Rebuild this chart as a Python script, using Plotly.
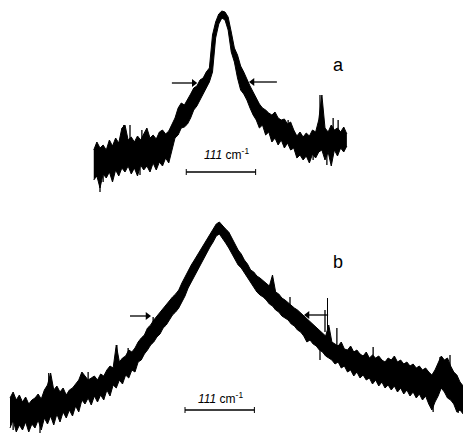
import plotly.graph_objects as go

# Wavenumber sampling (cm^-1, arbitrary origin)
wn_a = list(range(150, 560, 5))
wn_b = list(range(16, 746, 5))

# Spectrum a: upper / lower edges of the noisy trace (arb. intensity)
a_upper = [50, 58, 52, 55, 50, 60, 54, 62, 57, 72, 75, 60, 63, 58, 64, 60, 66, 72, 62, 65,
           61, 68, 70, 66, 69, 75, 82, 92, 97, 95, 100, 106, 112, 114, 120, 122, 128, 132, 165, 178,
           186, 189, 188, 183, 168, 152, 145, 134, 128, 120, 114, 108, 102, 96, 92, 90, 87, 85, 88, 82,
           80, 81, 76, 78, 70, 64, 68, 63, 67, 64, 70, 68, 80, 105, 72, 68, 75, 70, 72, 68,
           73, 66]
a_lower = [20, 24, 12, 26, 22, 28, 18, 30, 24, 32, 28, 34, 26, 32, 24, 35, 30, 34, 28, 37,
           30, 38, 34, 42, 37, 50, 62, 65, 72, 73, 76, 82, 90, 94, 100, 105, 112, 118, 128, 162,
           176, 182, 180, 170, 148, 138, 122, 110, 106, 100, 92, 85, 80, 72, 75, 65, 68, 58, 62, 55,
           60, 52, 57, 50, 52, 42, 45, 40, 44, 37, 46, 42, 48, 50, 40, 48, 34, 50, 44, 52,
           48, 54]
# Isolated noise spikes of spectrum a (position, tip intensity)
a_spike_up_x = [198, 208, 227, 256, 461, 512, 533, 541]
a_spike_up_y = [75, 75, 70, 68, 80, 105, 82, 80]
a_spike_dn_x = [160, 165, 224, 501, 523]
a_spike_dn_y = [8, 18, 25, 40, 35]

# Spectrum b
b_upper = [42, 48, 40, 45, 38, 43, 36, 40, 42, 46, 41, 50, 55, 67, 50, 54, 48, 52, 45, 50,
           52, 56, 60, 68, 64, 60, 62, 64, 60, 66, 64, 70, 74, 72, 95, 78, 82, 84, 90, 88,
           92, 98, 102, 105, 112, 115, 120, 124, 128, 132, 136, 140, 143, 146, 150, 157, 163, 170, 175, 180,
           185, 190, 196, 201, 206, 211, 216, 218, 214, 211, 208, 202, 195, 190, 186, 180, 176, 170, 168, 164,
           162, 159, 156, 154, 165, 148, 146, 142, 140, 137, 135, 132, 130, 127, 124, 122, 118, 115, 112, 109,
           106, 104, 115, 98, 96, 94, 98, 91, 90, 94, 88, 90, 86, 84, 88, 82, 85, 82, 84, 80,
           78, 82, 80, 84, 78, 80, 76, 78, 74, 76, 72, 74, 70, 72, 68, 65, 70, 78, 84, 80,
           82, 74, 68, 65, 58, 54]
b_lower = [12, 20, 8, 15, 10, 18, 8, 16, 12, 20, 10, 22, 16, 24, 15, 26, 18, 28, 22, 30,
           24, 34, 28, 40, 36, 42, 35, 44, 38, 45, 40, 50, 44, 55, 52, 60, 56, 65, 62, 70,
           68, 78, 80, 86, 90, 95, 98, 103, 106, 112, 115, 120, 125, 128, 132, 138, 144, 152, 158, 163,
           170, 175, 181, 187, 193, 198, 204, 206, 202, 197, 192, 186, 180, 175, 172, 167, 162, 157, 153, 148,
           145, 143, 140, 136, 134, 130, 128, 124, 122, 120, 116, 114, 110, 108, 104, 98, 100, 96, 94, 90,
           88, 84, 82, 80, 76, 78, 72, 74, 68, 70, 64, 68, 62, 65, 60, 62, 56, 60, 54, 58,
           52, 55, 50, 54, 48, 52, 46, 50, 44, 48, 42, 46, 40, 44, 36, 30, 38, 44, 52, 48,
           42, 40, 36, 28, 30, 26]
b_spike_up_x = [78, 141, 187, 205, 245, 437, 464, 520, 539, 597, 704, 720]
b_spike_up_y = [67, 68, 95, 92, 123, 158, 143, 130, 112, 93, 83, 85]
b_spike_dn_x = [21, 64, 512, 693, 733]
b_spike_dn_y = [10, 7, 80, 28, 27]

scale_label = "<i>111</i> cm<sup>-1</sup>"
scale_width = 111  # cm^-1

fig = go.Figure()
ink = "#000000"

def add_spectrum(x, lo, hi, yaxis):
    fig.add_trace(go.Scatter(x=x, y=lo, mode="lines", line=dict(color=ink, width=1),
                             yaxis=yaxis, hoverinfo="skip", showlegend=False))
    fig.add_trace(go.Scatter(x=x, y=hi, mode="lines", line=dict(color=ink, width=1),
                             fill="tonexty", fillcolor=ink,
                             yaxis=yaxis, hoverinfo="skip", showlegend=False))

def add_spikes(xs, ys, depth, yaxis):
    px, py = [], []
    for x, y in zip(xs, ys):
        px += [x, x, None]
        py += [y, y + depth, None]
    fig.add_trace(go.Scatter(x=px, y=py, mode="lines", line=dict(color=ink, width=1.3),
                             yaxis=yaxis, hoverinfo="skip", showlegend=False))

add_spectrum(wn_a, a_lower, a_upper, "y")
add_spikes(a_spike_up_x, a_spike_up_y, -22, "y")
add_spikes(a_spike_dn_x, a_spike_dn_y, 22, "y")
add_spectrum(wn_b, b_lower, b_upper, "y2")
add_spikes(b_spike_up_x, b_spike_up_y, -22, "y2")
add_spikes(b_spike_dn_x, b_spike_dn_y, 22, "y2")

shapes = []
annotations = []

def scale_bar(x0, y, yref, lx, ly):
    x1 = x0 + scale_width
    shapes.append(dict(type="line", x0=x0, x1=x1, y0=y, y1=y, xref="x", yref=yref,
                       line=dict(color=ink, width=1.3)))
    for xx in (x0, x1):
        shapes.append(dict(type="line", x0=xx, x1=xx, y0=y - 3, y1=y + 3, xref="x", yref=yref,
                           line=dict(color=ink, width=1)))
    annotations.append(dict(x=lx, y=ly, xref="x", yref=yref, text=scale_label, showarrow=False,
                            font=dict(family="Liberation Sans", size=12, color=ink)))

scale_bar(298, 28, "y", 363, 46)
scale_bar(296, 30, "y2", 352, 42)

def arrow(xh, xt, y, yaxis, symbol):
    fig.add_trace(go.Scatter(x=[xt, xh], y=[y, y], mode="lines", yaxis=yaxis,
                             line=dict(color=ink, width=1.3), hoverinfo="skip", showlegend=False))
    fig.add_trace(go.Scatter(x=[xh], y=[y], mode="markers", yaxis=yaxis,
                             marker=dict(symbol=symbol, size=7, color=ink),
                             hoverinfo="skip", showlegend=False))

arrow(310, 275, 117, "y", "triangle-right")
arrow(404, 443, 118, "y", "triangle-left")
arrow(236, 208, 124, "y2", "triangle-right")
arrow(492, 525, 125, "y2", "triangle-left")
shapes.append(dict(type="line", x0=524, x1=524, y0=110, y1=142, xref="x", yref="y2",
                   line=dict(color=ink, width=1)))

annotations.append(dict(x=541, y=135, xref="x", yref="y", text="a", showarrow=False,
                        font=dict(family="Liberation Sans", size=18, color=ink)))
annotations.append(dict(x=541, y=178, xref="x", yref="y2", text="b", showarrow=False,
                        font=dict(family="Liberation Sans", size=18, color=ink)))

fig.update_layout(
    width=463, height=435,
    margin=dict(l=0, r=0, t=0, b=0),
    paper_bgcolor="white", plot_bgcolor="white",
    xaxis=dict(range=[0, 740.8], visible=False),
    yaxis=dict(range=[-235, 200], visible=False),
    yaxis2=dict(range=[5, 440], visible=False, overlaying="y"),
    shapes=shapes, annotations=annotations,
    showlegend=False,
)

fig.write_html("out.html", config={"displayModeBar": False},
               post_script="document.body.style.margin='0';document.body.style.overflow='hidden';")
